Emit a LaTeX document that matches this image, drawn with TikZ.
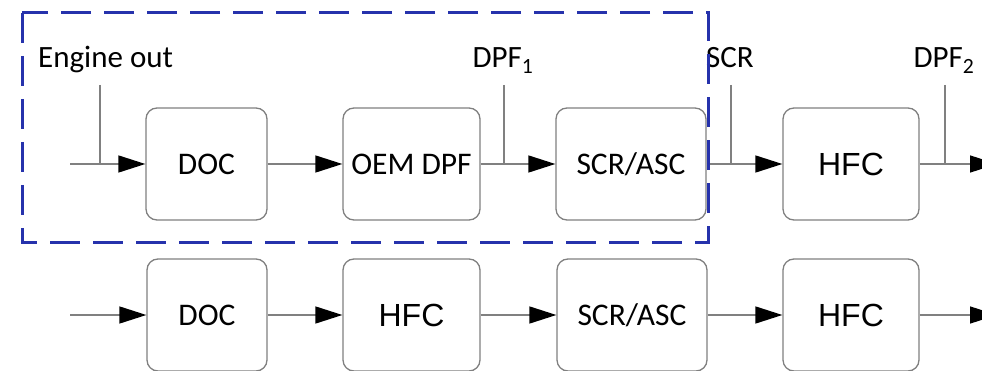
\documentclass[tikz,border=0pt]{standalone}
\usepackage{fontspec}
\setmainfont{Carlito}
\newfontfamily\arialfont{Liberation Sans}
\usetikzlibrary{arrows.meta,positioning}
\definecolor{ef-line}{HTML}{808080}
\definecolor{ef-frame}{HTML}{2632AC}

\tikzset{
  unit/.style={draw=ef-line,line width=1.3pt,rounded corners=11pt,
    minimum height=112pt,inner sep=0pt,font=\fontsize{31.5}{31.5}\selectfont},
  hfcunit/.style={unit,font=\arialfont\fontsize{32}{32}\selectfont},
  flow/.style={draw=ef-line,line width=1.4pt,
    -{Triangle[length=27pt,width=17pt,color=black]}},
  tap/.style={draw=ef-line,line width=1.4pt},
  tag/.style={font=\fontsize{31}{31}\selectfont,inner sep=0pt,anchor=base},
  frame/.style={draw=ef-frame,line width=3pt,dash pattern=on 30pt off 13pt}
}

\begin{document}
\begin{tikzpicture}[x=1pt,y=-1pt]
  \useasboundingbox (0,0) rectangle (982,371);

  % Oeverste linje
  \coordinate (in1) at (70,164);
  \node[unit,minimum width=121pt] (doc1) at (206.5,164) {DOC};
  \node[unit,minimum width=137pt] (dpf1) at (411.5,164) {OEM DPF};
  \node[unit,minimum width=150pt] (scr1) at (631,164) {SCR/ASC};
  \node[hfcunit,minimum width=136pt] (hfc1) at (851,164) {HFC};
  \coordinate (out1) at (997,164);

  \draw[flow] (in1) -- (doc1);
  \draw[flow] (doc1) -- (dpf1);
  \draw[flow] (dpf1) -- (scr1);
  \draw[flow] (scr1) -- (hfc1);
  \draw[flow] (hfc1) -- (out1);

  % Maalepunkter
  \coordinate (eo) at (100,164);  \coordinate (eoTop) at (100,85);
  \coordinate (d1) at (504,164);  \coordinate (d1Top) at (504,85);
  \coordinate (sc) at (731,164);  \coordinate (scTop) at (731,85);
  \coordinate (d2) at (945,164);  \coordinate (d2Top) at (945,85);
  \draw[tap] (eoTop) -- (eo);
  \draw[tap] (d1Top) -- (d1);
  \draw[tap] (scTop) -- (sc);
  \draw[tap] (d2Top) -- (d2);

  \node[tag,anchor=base west] (lblEO) at (38,68) {Engine out};
  \node[tag] (lblD1) at (503,68) {DPF\textsubscript{1}};
  \node[tag] (lblSC) at (730,68) {SCR};
  \node[tag] (lblD2) at (944,68) {DPF\textsubscript{2}};

  % Nederste linje
  \coordinate (in2) at (70,315);
  \node[unit,minimum width=120pt] (doc2) at (207,315) {DOC};
  \node[hfcunit,minimum width=137pt] (hfc2) at (411.5,315) {HFC};
  \node[unit,minimum width=150pt] (scr2) at (632,315) {SCR/ASC};
  \node[hfcunit,minimum width=136pt] (hfc3) at (851,315) {HFC};
  \coordinate (out2) at (997,315);

  \draw[flow] (in2) -- (doc2);
  \draw[flow] (doc2) -- (hfc2);
  \draw[flow] (hfc2) -- (scr2);
  \draw[flow] (scr2) -- (hfc3);
  \draw[flow] (hfc3) -- (out2);

  % Stiplet ramme
  \draw[frame] (22,13) rectangle (708,243);
\end{tikzpicture}
\end{document}
